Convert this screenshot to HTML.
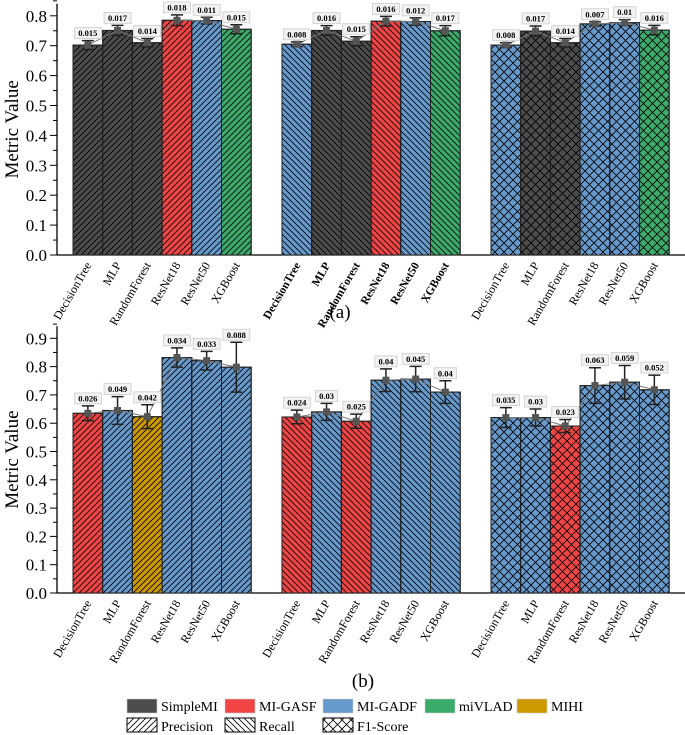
<!DOCTYPE html>
<html><head><meta charset="utf-8"><style>
body{margin:0;background:#fff;}
svg{display:block;font-family:"Liberation Serif","Times New Roman",serif;}
</style></head><body>
<svg id="c" width="685" height="735" viewBox="0 0 685 735">
<defs>
<pattern id="p-prec" patternUnits="userSpaceOnUse" width="6" height="6"><path d="M-1,7 L7,-1 M-4,4 L4,-4 M2,10 L10,2" stroke="#000" stroke-width="0.8"/></pattern>
<pattern id="p-rec" patternUnits="userSpaceOnUse" width="6" height="6"><path d="M-1,-1 L7,7 M-4,2 L4,10 M2,-4 L10,4" stroke="#000" stroke-width="0.8"/></pattern>
<pattern id="p-f1" patternUnits="userSpaceOnUse" width="9" height="9"><path d="M-1,-1 L10,10 M-1,10 L10,-1" stroke="#000" stroke-width="0.8"/></pattern>
</defs>
</svg>
<script>
const models=["DecisionTree","MLP","RandomForest","ResNet18","ResNet50","XGBoost"];
const metrics=["prec","rec","f1"];
const topValues=[[0.702,0.751,0.710,0.785,0.784,0.755],[0.705,0.751,0.715,0.782,0.781,0.750],[0.702,0.749,0.710,0.773,0.777,0.752]];
const topErrors=[[0.015,0.017,0.014,0.018,0.011,0.015],[0.008,0.016,0.015,0.016,0.012,0.017],[0.008,0.017,0.014,0.007,0.01,0.016]];
const topColors=[["s","s","s","g","d","v"],["d","s","s","g","d","v"],["d","s","s","d","d","v"]];
const botValues=[[0.635,0.645,0.623,0.832,0.821,0.798],[0.622,0.640,0.607,0.752,0.756,0.710],[0.620,0.620,0.590,0.733,0.745,0.718]];
const botErrors=[[0.026,0.049,0.042,0.034,0.033,0.088],[0.024,0.03,0.025,0.04,0.045,0.04],[0.035,0.03,0.023,0.063,0.059,0.052]];
const botColors=[["g","d","h","d","d","d"],["g","d","g","d","d","d"],["d","d","g","d","d","d"]];
const topTicks=[0,0.1,0.2,0.3,0.4,0.5,0.6,0.7,0.8];
const botTicks=[0,0.1,0.2,0.3,0.4,0.5,0.6,0.7,0.8,0.9];
const colorMap={s:"#4d4d4d",g:"#f24444",d:"#6699cc",v:"#3aab6b",h:"#cc9900"};
const NS="http://www.w3.org/2000/svg";
const svg=document.getElementById('c');
function el(t,a,p){const e=document.createElementNS(NS,t);for(const k in a)e.setAttribute(k,a[k]);(p||svg).appendChild(e);return e;}
const groupX=[73,282,491], bw=29.7;
function panel(name,y0,pxPer,vmax,vals,errs,cols,ticks,boldGroup){
  const g=el('g',{});
  
  
  const y=v=>y0-v*pxPer*10;
  const top=y(vmax)-12;
  const ax=el('line',{x1:57,y1:top,x2:57,y2:y0,stroke:'#000','stroke-width':1.3},g);
  
  const bx=el('line',{x1:57,y1:y0,x2:685,y2:y0,stroke:'#000','stroke-width':1.3},g);
  
  ticks.forEach(t=>{
    el('line',{x1:50,y1:y(t),x2:57,y2:y(t),stroke:'#000','stroke-width':1},g);
    el('line',{x1:53,y1:y(t)-pxPer*0.5,x2:57,y2:y(t)-pxPer*0.5,stroke:'#000','stroke-width':1},g);
    const tx=el('text',{x:47,y:y(t)+6,'text-anchor':'end','font-size':17},g);
    tx.textContent=t.toFixed(1);
    
  });
  const yl=el('text',{transform:`translate(18,${(top+y0)/2}) rotate(-90)`,'text-anchor':'middle','font-size':19},g);
  yl.textContent='Metric Value';
  
  for(let gi=0;gi<3;gi++){
    const pts=[];
    for(let i=0;i<6;i++){
      const x=groupX[gi]+i*bw, v=vals[gi][i];
      const r=el('rect',{x:x,y:y(v),width:bw,height:y0-y(v),fill:colorMap[cols[gi][i]],stroke:'#222','stroke-width':1},g);
      
      
      el('rect',{x:x,y:y(v),width:bw,height:y0-y(v),fill:`url(#p-${metrics[gi]})`,stroke:'#222','stroke-width':1},g);
      pts.push([x+bw/2,y(v)]);
      const bold=boldGroup&&gi==1;
      const lab=el('text',{transform:`translate(${x+bw/2+4},${y0+10}) rotate(-60)`,'text-anchor':'end','font-size':bold?11.5:12,'font-weight':bold?'bold':'normal'},g);
      lab.textContent=models[i];
      
    }
    el('polyline',{points:pts.map(p=>p.join(',')).join(' '),fill:'none',stroke:'#777','stroke-width':1},g);
    for(let i=0;i<6;i++){
      const cx=groupX[gi]+i*bw+bw/2, v=vals[gi][i], e=errs[gi][i];
      const eb=el('path',{d:`M${cx},${y(v+e)}V${y(v-e)}M${cx-6},${y(v+e)}h12M${cx-6},${y(v-e)}h12`,stroke:'#222','stroke-width':1.5,fill:'none'},g);
      
      el('rect',{x:cx-3.5,y:y(v)-3.5,width:7,height:7,fill:'#555'},g);
      const s=String(e), w=s.length*4.6+4, ty=y(v+e)-3;
      el('rect',{x:cx-w/2,y:ty-10,width:w,height:11,fill:'#f2f2f2',stroke:'#ccc','stroke-width':0.8},g);
      const vt=el('text',{x:cx,y:ty-1.5,'text-anchor':'middle','font-size':8.5,'font-weight':'bold'},g);
      vt.textContent=s;
      
    }
  }
}
panel('panel-a',255,29.9,0.8,topValues,topErrors,topColors,topTicks,true);
panel('panel-b',593,28.3,0.9,botValues,botErrors,botColors,botTicks,false);
const ta=el('text',{x:340,y:318,'text-anchor':'middle','font-size':19});ta.textContent='(a)';

const tb=el('text',{x:363,y:687,'text-anchor':'middle','font-size':19});tb.textContent='(b)';

const legend1=[["SimpleMI","s",127],["MI-GASF","g",225],["MI-GADF","d",323],["miVLAD","v",425],["MIHI","h",517]];
const legend2=[["Precision","prec",127],["Recall","rec",225],["F1-Score","f1",323]];
legend1.forEach(l=>{
  const r=el('rect',{x:l[2],y:699,width:30,height:14,fill:colorMap[l[1]],stroke:'#ccc','stroke-width':0.6});
  
  const t=el('text',{x:l[2]+34,y:711,'font-size':14});t.textContent=l[0];
  
});
legend2.forEach(l=>{
  el('rect',{x:l[2],y:718,width:30,height:14,fill:'#fff'});
  const r=el('rect',{x:l[2],y:718,width:30,height:14,fill:`url(#p-${l[1]})`,stroke:'#000','stroke-width':1});
  
  const t=el('text',{x:l[2]+34,y:731,'font-size':14});t.textContent=l[0];
  
});
</script>
</body></html>
